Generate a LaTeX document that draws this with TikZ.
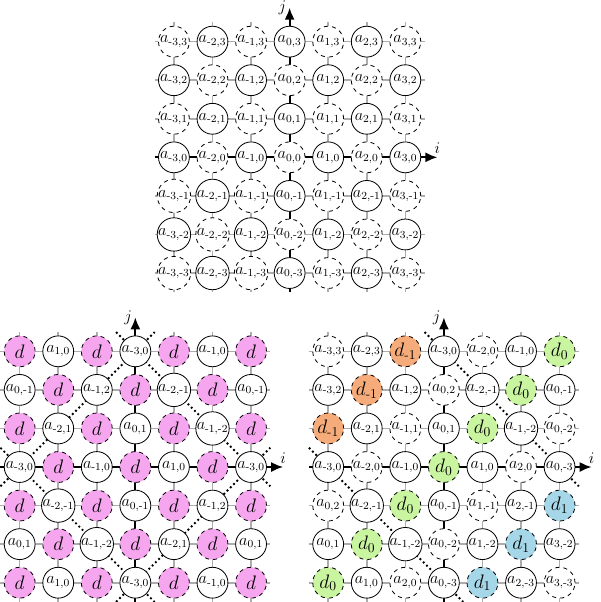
\documentclass[tikz,border=0pt]{standalone}
\usepackage{amsmath}
\usetikzlibrary{arrows.meta}
\definecolor{dpink}{RGB}{246,166,238}
\definecolor{dorange}{RGB}{246,172,122}
\definecolor{dgreen}{RGB}{202,245,160}
\definecolor{dblue}{RGB}{165,215,232}
\newcommand\m{\text{-}}
\newcommand\A[2]{$a_{#1,#2}$}
\newcommand\D[1]{$d_{#1}$}
\newcommand\sg[1]{\ifnum#1<0 \text{-}\number\numexpr0-(#1)\relax\else#1\fi}
\tikzset{
  cellbase/.style={circle, draw=black, line width=0.6pt, minimum size=0.8cm, inner sep=0pt, font=\fontsize{12}{14}\selectfont},
  sc/.style={cellbase, fill=white},
  dc/.style={cellbase, fill=white, dashed},
  dbase/.style={cellbase, dashed, font=\fontsize{14}{16}\selectfont},
  pk/.style={dbase, fill=dpink},
  og/.style={dbase, fill=dorange},
  gn/.style={dbase, fill=dgreen},
  bu/.style={dbase, fill=dblue},
  gridline/.style={draw=black!32, line width=1.2pt},
  axisarrow/.style={draw=black, line width=1.3pt, -{Latex[length=3.1mm,width=2.6mm]}},
  wrapline/.style={draw=black, line width=1.4pt, dotted},
  axlabel/.style={font=\fontsize{12}{14}\selectfont, inner sep=2pt},
}
\newcommand\gridbg[1]{%
  \foreach \k [count=\n] in {-3,-2,-1,1,2,3} {
    \coordinate (#1ha\n) at (-3.5,\k);
    \coordinate (#1hb\n) at (3.5,\k);
    \draw[gridline] (#1ha\n) -- (#1hb\n);
    \coordinate (#1va\n) at (\k,-3.5);
    \coordinate (#1vb\n) at (\k,3.5);
    \draw[gridline] (#1va\n) -- (#1vb\n);
  }
  \coordinate (#1xa) at (-3.5,0);
  \coordinate (#1xb) at (3.83,0);
  \draw[axisarrow] (#1xa) -- (#1xb) node[axlabel, above] (#1i) {$i$};
  \coordinate (#1ya) at (0,-3.5);
  \coordinate (#1yb) at (0,3.88);
  \draw[axisarrow] (#1ya) -- (#1yb) node[axlabel, left] (#1j) {$j$};
}
\begin{document}
\begin{tikzpicture}
\useasboundingbox (0,0) rectangle (15.56,15.61);
% ---------- top grid ----------
\begin{scope}[shift={(7.51,11.53)}]
  \gridbg{T}
  \foreach \i [count=\ci] in {-3,...,3} {
    \foreach \j [count=\cj] in {-3,...,3} {
      \ifodd\numexpr\i+\j+10\relax \def\st{sc}\else\def\st{dc}\fi
      \node[\st] (T\ci\cj) at (\i,\j) {$a_{\sg{\i},\sg{\j}}$};
    }
  }
\end{scope}
% ---------- bottom-left grid ----------
\begin{scope}[shift={(3.51,3.5)}]
  \gridbg{L}
  \coordinate (Lp1) at (-3.5,-0.5); \coordinate (Lp2) at (0.5,3.5);
  \coordinate (Lp3) at (-0.5,3.5);  \coordinate (Lp4) at (3.5,-0.5);
  \coordinate (Lp5) at (-0.5,-3.5); \coordinate (Lp6) at (3.5,0.5);
  \coordinate (Lp7) at (-3.5,0.5);  \coordinate (Lp8) at (0.5,-3.5);
  \draw[wrapline] (Lp1) -- (Lp2);
  \draw[wrapline] (Lp3) -- (Lp4);
  \draw[wrapline] (Lp5) -- (Lp6);
  \draw[wrapline] (Lp7) -- (Lp8);
  \foreach \c/\r/\s/\t [count=\n] in {
    -3/3/pk/$d$, -2/3/sc/\A{1}{0}, -1/3/pk/$d$, 0/3/sc/\A{\m3}{0}, 1/3/pk/$d$, 2/3/sc/\A{\m1}{0}, 3/3/pk/$d$,
    -3/2/sc/\A{0}{\m1}, -2/2/pk/$d$, -1/2/sc/\A{\m1}{2}, 0/2/pk/$d$, 1/2/sc/\A{\m2}{\m1}, 2/2/pk/$d$, 3/2/sc/\A{0}{\m1},
    -3/1/pk/$d$, -2/1/sc/\A{\m2}{1}, -1/1/pk/$d$, 0/1/sc/\A{0}{1}, 1/1/pk/$d$, 2/1/sc/\A{\m1}{\m2}, 3/1/pk/$d$,
    -3/0/sc/\A{\m3}{0}, -2/0/pk/$d$, -1/0/sc/\A{\m1}{0}, 0/0/pk/$d$, 1/0/sc/\A{1}{0}, 2/0/pk/$d$, 3/0/sc/\A{\m3}{0},
    -3/-1/pk/$d$, -2/-1/sc/\A{\m2}{\m1}, -1/-1/pk/$d$, 0/-1/sc/\A{0}{\m1}, 1/-1/pk/$d$, 2/-1/sc/\A{\m1}{2}, 3/-1/pk/$d$,
    -3/-2/sc/\A{0}{1}, -2/-2/pk/$d$, -1/-2/sc/\A{\m1}{\m2}, 0/-2/pk/$d$, 1/-2/sc/\A{\m2}{1}, 2/-2/pk/$d$, 3/-2/sc/\A{0}{1},
    -3/-3/pk/$d$, -2/-3/sc/\A{1}{0}, -1/-3/pk/$d$, 0/-3/sc/\A{\m3}{0}, 1/-3/pk/$d$, 2/-3/sc/\A{\m1}{0}, 3/-3/pk/$d$}
  {
    \node[\s] (L\n) at (\c,\r) {\t};
  }
\end{scope}
% ---------- bottom-right grid ----------
\begin{scope}[shift={(11.51,3.5)}]
  \gridbg{R}
  \coordinate (Rp3) at (-0.5,3.5);  \coordinate (Rp4) at (3.5,-0.5);
  \coordinate (Rp7) at (-3.5,0.5);  \coordinate (Rp8) at (0.5,-3.5);
  \draw[wrapline] (Rp3) -- (Rp4);
  \draw[wrapline] (Rp7) -- (Rp8);
  \foreach \c/\r/\s/\t [count=\n] in {
    -3/3/dc/\A{\m3}{3}, -2/3/sc/\A{\m2}{3}, -1/3/og/\D{\m1}, 0/3/sc/\A{\m3}{0}, 1/3/dc/\A{\m2}{0}, 2/3/sc/\A{\m1}{0}, 3/3/gn/\D{0},
    -3/2/sc/\A{\m3}{2}, -2/2/og/\D{\m1}, -1/2/sc/\A{\m1}{2}, 0/2/dc/\A{0}{2}, 1/2/sc/\A{\m2}{\m1}, 2/2/gn/\D{0}, 3/2/sc/\A{0}{\m1},
    -3/1/og/\D{\m1}, -2/1/sc/\A{\m2}{1}, -1/1/dc/\A{\m1}{1}, 0/1/sc/\A{0}{1}, 1/1/gn/\D{0}, 2/1/sc/\A{\m1}{\m2}, 3/1/dc/\A{0}{\m2},
    -3/0/sc/\A{\m3}{0}, -2/0/dc/\A{\m2}{0}, -1/0/sc/\A{\m1}{0}, 0/0/gn/\D{0}, 1/0/sc/\A{1}{0}, 2/0/dc/\A{2}{0}, 3/0/sc/\A{0}{\m3},
    -3/-1/dc/\A{0}{2}, -2/-1/sc/\A{\m2}{\m1}, -1/-1/gn/\D{0}, 0/-1/sc/\A{0}{\m1}, 1/-1/dc/\A{1}{\m1}, 2/-1/sc/\A{2}{\m1}, 3/-1/bu/\D{1},
    -3/-2/sc/\A{0}{1}, -2/-2/gn/\D{0}, -1/-2/sc/\A{\m1}{\m2}, 0/-2/dc/\A{0}{\m2}, 1/-2/sc/\A{1}{\m2}, 2/-2/bu/\D{1}, 3/-2/sc/\A{3}{\m2},
    -3/-3/gn/\D{0}, -2/-3/sc/\A{1}{0}, -1/-3/dc/\A{2}{0}, 0/-3/sc/\A{0}{\m3}, 1/-3/bu/\D{1}, 2/-3/sc/\A{2}{\m3}, 3/-3/dc/\A{3}{\m3}}
  {
    \node[\s] (R\n) at (\c,\r) {\t};
  }
\end{scope}
\end{tikzpicture}
\end{document}
